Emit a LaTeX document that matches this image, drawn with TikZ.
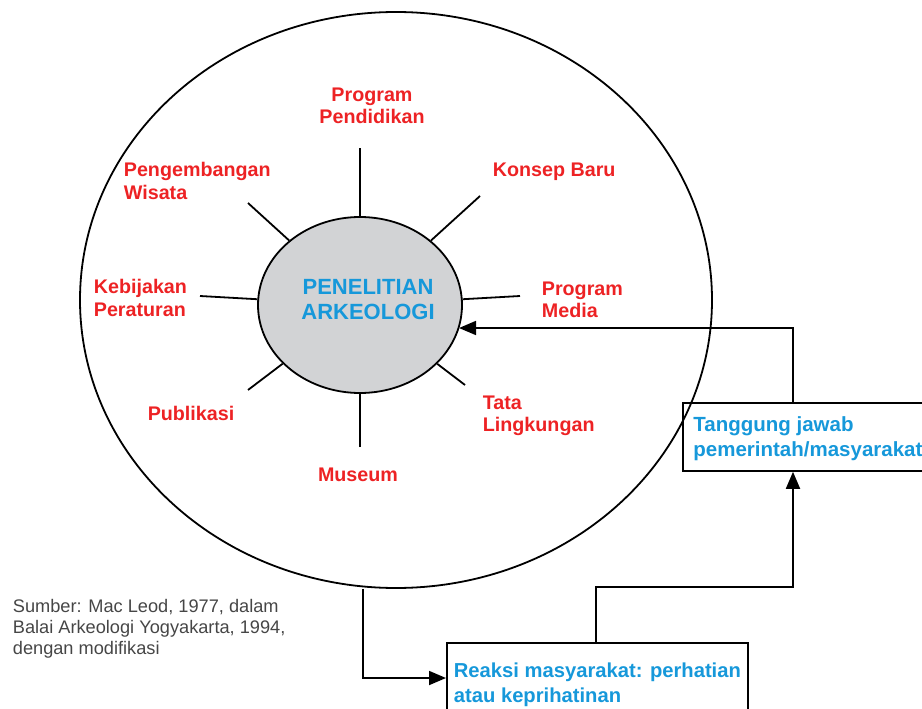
\documentclass[tikz,border=0pt]{standalone}
\usepackage{fontspec}
\setmainfont{Liberation Sans}
\usepackage{tikz}
\usetikzlibrary{shapes,arrows.meta,positioning}
\definecolor{labelred}{RGB}{237,34,36}
\definecolor{textblue}{RGB}{22,152,218}
\definecolor{coregray}{RGB}{210,211,213}
\definecolor{notegray}{RGB}{70,70,70}
\begin{document}
\begin{tikzpicture}[x=1pt, y=-1pt, line width=1.8pt,
                   item/.style={text=labelred, font=\bfseries\fontsize{19.7}{22.5}\selectfont,
                                inner sep=0pt, align=left},
                   infobox/.style={draw, anchor=north west, text=textblue, align=left,
                                   font=\bfseries\fontsize{20.5}{25}\selectfont,
                                   inner xsep=7pt, text depth=0pt},
                   arrow/.style={-{Triangle[length=17pt,width=14pt]}}]
          \useasboundingbox (0,0) rectangle (922,709);
          \node[ellipse, draw, minimum width=632pt, minimum height=576pt, inner sep=0pt] (outer) at (396,300) {};
          \node[ellipse, draw, fill=coregray, minimum width=204pt, minimum height=176pt, inner sep=0pt] (core) at (360,305) {};
          \node[text=textblue, align=center, inner sep=0pt,
                font=\bfseries\fontsize{22}{25}\selectfont] (coretext) at (368,300) {PENELITIAN\\ARKEOLOGI};
          % spokes
          \coordinate (s1) at (360,148);
          \coordinate (s2) at (480,196);
          \coordinate (s3) at (520,296);
          \coordinate (s4) at (465,385);
          \coordinate (s5) at (360,447);
          \coordinate (s6) at (248,390);
          \coordinate (s7) at (200,296);
          \coordinate (s8) at (248,203);
          \foreach \i in {1,...,8}
            \draw (s\i) -- (core);
          % labels
          \node[item, align=center] (pendidikan) at (372,106) {Program\\Pendidikan};
          \node[item, anchor=west] (konsep) at (492,172) {Konsep Baru};
          \node[item, anchor=west] (media) at (541,300) {Program\\Media};
          \node[item, anchor=west] (lingkungan) at (482,416) {Tata\\Lingkungan};
          \node[item] (museum) at (358,475) {Museum};
          \node[item] (publikasi) at (191,413) {Publikasi};
          \node[item, anchor=west] (kebijakan) at (93,298) {Kebijakan\\Peraturan};
          \node[item, anchor=west] (wisata) at (123,181) {Pengembangan\\Wisata};
          % boxes
          \node[infobox, minimum width=250pt, minimum height=68pt] (tanggung) at (682,402)
            {Tanggung jawab\\pemerintah/masyarakat};
          \node[infobox, minimum width=296pt, minimum height=80pt, anchor=north west,
                font=\bfseries\fontsize{20.2}{24.5}\selectfont] (reaksi) at (446,642)
            {Reaksi masyarakat: perhatian\\atau keprihatinan};
          % connectors
          \coordinate (up) at (793,328);
          \coordinate (hit) at (459,328);
          \coordinate (down) at (363,678);
          \coordinate (turn) at (596,587);
          \draw[arrow] (tanggung.north -| up) -- (up) -- (hit);
          \draw[arrow] (down |- outer.south) -- (down) -- (down -| reaksi.west);
          \draw[arrow] (reaksi.north -| turn) -- (turn) -| (tanggung.south -| up);
          % source
          \node[anchor=north west, text=notegray, align=left, inner sep=0pt,
                font=\fontsize{18.2}{21}\selectfont] (sumber) at (12,598)
            {Sumber: Mac Leod, 1977, dalam\\Balai Arkeologi Yogyakarta, 1994,\\dengan modifikasi};
        \end{tikzpicture}
\end{document}
